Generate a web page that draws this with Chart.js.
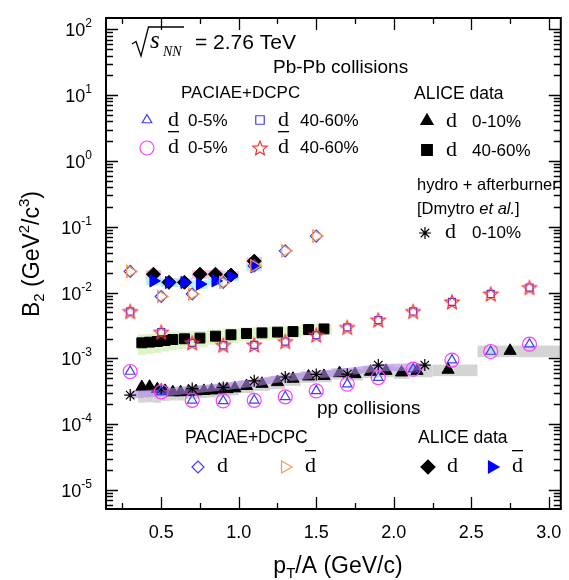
<!DOCTYPE html>
<html>
<head>
<meta charset="utf-8">
<script src="https://cdn.jsdelivr.net/npm/chart.js@4.4.1/dist/chart.umd.min.js"></script>
<style>
body { margin: 0; background: #fff; }
canvas { display: block; }
</style>
</head>
<body>
<canvas id="b2" width="569" height="580"></canvas>
<script>
// PACIAE+DCPC, Pb-Pb
const pbX = [0.3, 0.5, 0.7, 0.9, 1.1, 1.3, 1.5, 1.7, 1.9, 2.125, 2.375, 2.625, 2.875];
const paciaeD05 = [6.3e-4, 3.1e-4, 2.3e-4, 2.25e-4, 2.3e-4, 2.6e-4, 3.2e-4, 4.05e-4, 5.1e-4, 6.85e-4, 9.4e-4, 1.27e-3, 1.64e-3];
const paciaeDbar05 = [6.3e-4, 3.1e-4, 2.3e-4, 2.25e-4, 2.3e-4, 2.6e-4, 3.2e-4, 4.05e-4, 5.1e-4, 6.85e-4, 9.4e-4, 1.27e-3, 1.64e-3];
const paciaeD4060 = [5.15e-3, 2.5e-3, 1.72e-3, 1.58e-3, 1.6e-3, 1.8e-3, 2.25e-3, 2.95e-3, 3.82e-3, 5.15e-3, 7.2e-3, 9.5e-3, 1.19e-2];
const paciaeDbar4060 = [5.15e-3, 2.5e-3, 1.72e-3, 1.58e-3, 1.6e-3, 1.8e-3, 2.25e-3, 2.95e-3, 3.82e-3, 5.15e-3, 7.2e-3, 9.5e-3, 1.19e-2];

// ALICE Pb-Pb, d 0-10%
const alice010X = [0.375, 0.425, 0.475, 0.525, 0.575, 0.625, 0.675, 0.725, 0.775, 0.825, 0.875, 0.925, 0.975,
  1.05, 1.15, 1.25, 1.35, 1.45, 1.55, 1.65, 1.75, 1.85, 1.95, 2.05, 2.15, 2.35, 2.75];
const alice010 = [3.65e-4, 3.7e-4, 3.4e-4, 3.2e-4, 3.05e-4, 3.05e-4, 3.1e-4, 3.15e-4, 3.2e-4, 3.25e-4, 3.35e-4, 3.4e-4, 3.5e-4,
  3.8e-4, 4.1e-4, 4.35e-4, 4.9e-4, 5.3e-4, 5.4e-4, 5.95e-4, 5.75e-4, 6.25e-4, 6.45e-4, 6.1e-4, 6.45e-4, 6.7e-4, 1.3e-3];
const alice010BinLo = [0.35, 0.4, 0.45, 0.5, 0.55, 0.6, 0.65, 0.7, 0.75, 0.8, 0.85, 0.9, 0.95,
  1.0, 1.1, 1.2, 1.3, 1.4, 1.5, 1.6, 1.7, 1.8, 1.9, 2.0, 2.1, 2.25, 2.54];
const alice010BinHi = [0.4, 0.45, 0.5, 0.55, 0.6, 0.65, 0.7, 0.75, 0.8, 0.85, 0.9, 0.95, 1.0,
  1.1, 1.2, 1.3, 1.4, 1.5, 1.6, 1.7, 1.8, 1.9, 2.0, 2.1, 2.25, 2.54, 3.1];
const alice010SysLo = [0.42, 0.42, 0.38, 0.3, 0.25, 0.25, 0.22, 0.22, 0.22, 0.22, 0.22, 0.22, 0.22,
  0.22, 0.22, 0.22, 0.22, 0.2, 0.2, 0.2, 0.2, 0.2, 0.2, 0.2, 0.2, 0.2, 0.2];
const alice010SysHi = [0.12, 0.12, 0.15, 0.2, 0.22, 0.22, 0.22, 0.22, 0.22, 0.22, 0.22, 0.22, 0.22,
  0.22, 0.22, 0.22, 0.22, 0.2, 0.2, 0.2, 0.2, 0.2, 0.2, 0.2, 0.2, 0.2, 0.2];

// ALICE Pb-Pb, d 40-60%
const alice4060X = [0.375, 0.425, 0.475, 0.525, 0.575, 0.65, 0.75, 0.85, 0.95, 1.05, 1.15, 1.25, 1.35, 1.45, 1.55];
const alice4060 = [1.72e-3, 1.76e-3, 1.8e-3, 1.86e-3, 1.93e-3, 1.98e-3, 2.03e-3, 2.17e-3, 2.28e-3, 2.38e-3, 2.44e-3, 2.5e-3, 2.55e-3, 2.74e-3, 2.8e-3];
const alice4060BinLo = [0.35, 0.4, 0.45, 0.5, 0.55, 0.6, 0.7, 0.8, 0.9, 1.0, 1.1, 1.2, 1.3, 1.4, 1.5];
const alice4060BinHi = [0.4, 0.45, 0.5, 0.55, 0.6, 0.7, 0.8, 0.9, 1.0, 1.1, 1.2, 1.3, 1.4, 1.5, 1.6];
const alice4060Sys = [0.35, 0.34, 0.33, 0.32, 0.31, 0.3, 0.28, 0.26, 0.25, 0.24, 0.23, 0.22, 0.21, 0.2, 0.2];

// hydro + afterburner, d 0-10%
const hydroX = [0.3, 0.5, 0.7, 0.9, 1.1, 1.3, 1.5, 1.7, 1.9, 2.2];
const hydro = [2.76e-4, 3.4e-4, 3.47e-4, 3.6e-4, 4.55e-4, 5.2e-4, 5.7e-4, 5.75e-4, 7.9e-4, 7.9e-4];
const hydroBandLo = [2.45e-4, 2.62e-4, 2.91e-4, 3.24e-4, 3.73e-4, 4.44e-4, 4.92e-4, 5.47e-4, 6.3e-4, 6.52e-4];
const hydroBandHi = [3.18e-4, 3.41e-4, 3.78e-4, 4.21e-4, 4.85e-4, 5.77e-4, 6.4e-4, 7.11e-4, 8.19e-4, 8.47e-4];

// pp, PACIAE+DCPC
const ppX = [0.3, 0.5, 0.7, 0.9, 1.1, 1.3, 1.5];
const ppPaciaeD = [0.0209, 0.0087, 0.0095, 0.0142, 0.0254, 0.043, 0.072];
const ppPaciaeDbar = [0.0209, 0.0087, 0.0095, 0.0142, 0.0254, 0.043, 0.072];

// pp, ALICE data
const ppAliceX = [0.45, 0.55, 0.65, 0.75, 0.85, 0.95, 1.1];
const ppAliceD = [0.019, 0.0143, 0.0143, 0.019, 0.019, 0.0184, 0.030];
const ppAliceDbar = [0.015, 0.0142, 0.0142, 0.0134, 0.015, 0.0174, 0.0245];
const ppAliceBinLo = [0.4, 0.5, 0.6, 0.7, 0.8, 0.9, 1.05];
const ppAliceBinHi = [0.5, 0.6, 0.7, 0.8, 0.9, 1.0, 1.15];
const ppAliceSys = [0.15, 0.15, 0.15, 0.15, 0.15, 0.15, 0.15];

const xTickLabels = ['0.5', '1.0', '1.5', '2.0', '2.5', '3.0'];
const yTickExps = [-5, -4, -3, -2, -1, 0, 1, 2];

const SANS = '"Liberation Sans", Arial, sans-serif';
const SERIF = '"Liberation Serif", "Times New Roman", serif';
const BLUE = 'rgb(60,60,255)';
const MAGENTA = 'rgb(255,60,255)';
const RED = 'rgb(255,50,50)';
const ORANGE = 'rgb(255,150,70)';

function pts(xs, ys) {
    return xs.map((x, i) => ({ x: x, y: ys[i] }));
}

function starCanvas(color) {
    const c = document.createElement('canvas');
    c.width = 18; c.height = 18;
    const g = c.getContext('2d');
    g.strokeStyle = color;
    g.lineWidth = 1.2;
    g.beginPath();
    for (let i = 0; i < 10; i++) {
        const r = i % 2 ? 3.3 : 7.5;
        const a = -Math.PI / 2 + i * Math.PI / 5;
        const px = 9 + r * Math.cos(a), py = 9.6 + r * Math.sin(a);
        if (i) g.lineTo(px, py); else g.moveTo(px, py);
    }
    g.closePath();
    g.stroke();
    return c;
}
const redStar = starCanvas(RED);

function boxes(chart, lo, hi, ys, sysLo, sysHi, color) {
    const ctx = chart.ctx, sx = chart.scales.x, sy = chart.scales.y;
    ctx.fillStyle = color;
    ys.forEach((v, i) => {
        const x0 = sx.getPixelForValue(lo[i]), x1 = sx.getPixelForValue(hi[i]);
        const y0 = sy.getPixelForValue(v * (1 + sysHi[i])), y1 = sy.getPixelForValue(v * (1 - sysLo[i]));
        ctx.fillRect(x0, y0, x1 - x0, y1 - y0);
    });
}

const sysBoxes = {
    id: 'sysBoxes',
    beforeDatasetsDraw(chart) {
        const a = chart.chartArea, ctx = chart.ctx;
        ctx.save();
        ctx.beginPath();
        ctx.rect(a.left, a.top, a.right - a.left, a.bottom - a.top);
        ctx.clip();
        boxes(chart, alice4060BinLo, alice4060BinHi, alice4060, alice4060Sys, alice4060Sys, 'rgb(222,244,200)');
        boxes(chart, alice010BinLo, alice010BinHi, alice010, alice010SysLo, alice010SysHi, 'rgb(212,212,212)');
        boxes(chart, ppAliceBinLo, ppAliceBinHi, ppAliceD, ppAliceSys, ppAliceSys, 'rgba(255,175,215,0.85)');
        boxes(chart, ppAliceBinLo, ppAliceBinHi, ppAliceDbar, ppAliceSys, ppAliceSys, 'rgba(170,240,240,0.8)');
        ctx.restore();
    }
};

function rich(ctx, parts, x, y, align) {
    let w = 0;
    parts.forEach(p => { ctx.font = p.f; w += ctx.measureText(p.t).width; });
    let cx = align === 'right' ? x - w : align === 'center' ? x - w / 2 : x;
    parts.forEach(p => {
        ctx.font = p.f;
        ctx.fillText(p.t, cx, y + (p.dy || 0));
        cx += ctx.measureText(p.t).width;
    });
}

function marker(ctx, style, radius, rotation, fill, stroke, x, y) {
    ctx.save();
    ctx.fillStyle = fill;
    ctx.strokeStyle = stroke;
    ctx.lineWidth = 1.2;
    Chart.helpers.drawPoint(ctx, { pointStyle: style, radius: radius, rotation: rotation, borderWidth: 1.2 }, x, y);
    ctx.restore();
}

function dGlyph(ctx, x, y, bar) {
    ctx.font = '22px ' + SERIF;
    ctx.fillText('d', x, y);
    if (bar) {
        ctx.fillRect(x, y - 22, 11, 1.3);
    }
}

const frameAndText = {
    id: 'frameAndText',
    afterDraw(chart) {
        const ctx = chart.ctx, a = chart.chartArea, sx = chart.scales.x, sy = chart.scales.y;
        ctx.save();
        ctx.strokeStyle = '#000';
        ctx.fillStyle = '#000';
        ctx.lineWidth = 2;
        ctx.strokeRect(a.left, a.top, a.right - a.left, a.bottom - a.top);

        // ticks
        ctx.lineWidth = 1.3;
        ctx.beginPath();
        for (let e = -6; e <= 2; e++) {
            for (let m = 1; m <= 9; m++) {
                const v = m * Math.pow(10, e);
                if (v < sy.min || v > sy.max) continue;
                const py = Math.round(sy.getPixelForValue(v)) + 0.5;
                const len = m === 1 ? 12 : 7;
                ctx.moveTo(a.left, py); ctx.lineTo(a.left + len, py);
                ctx.moveTo(a.right, py); ctx.lineTo(a.right - len, py);
            }
        }
        for (let k = 1; k <= 12; k++) {
            const v = k * 0.25;
            const px = Math.round(sx.getPixelForValue(v)) + 0.5;
            const len = k % 2 === 0 ? 12 : 6;
            ctx.moveTo(px, a.bottom); ctx.lineTo(px, a.bottom - len);
            ctx.moveTo(px, a.top); ctx.lineTo(px, a.top + len);
        }
        ctx.stroke();

        // tick labels
        ctx.textBaseline = 'alphabetic';
        ctx.textAlign = 'left';
        yTickExps.forEach(e => {
            const py = sy.getPixelForValue(Math.pow(10, e));
            rich(ctx, [
                { t: '10', f: '18px ' + SANS },
                { t: String(e), f: '12px ' + SANS, dy: -9 }
            ], 92, py + 7, 'right');
        });
        ctx.textAlign = 'center';
        ctx.font = '18px ' + SANS;
        xTickLabels.forEach(t => {
            ctx.fillText(t, sx.getPixelForValue(parseFloat(t)), 538);
        });
        ctx.textAlign = 'left';

        // axis titles
        rich(ctx, [
            { t: 'p', f: '23px ' + SANS },
            { t: 'T', f: '15px ' + SANS, dy: 5 },
            { t: '/A (GeV/c)', f: '23px ' + SANS }
        ], 338, 573, 'center');
        ctx.save();
        ctx.translate(39, 254);
        ctx.rotate(-Math.PI / 2);
        rich(ctx, [
            { t: 'B', f: '23px ' + SANS },
            { t: '2', f: '15px ' + SANS, dy: 5 },
            { t: ' (GeV', f: '23px ' + SANS },
            { t: '2', f: '15px ' + SANS, dy: -10 },
            { t: '/c', f: '23px ' + SANS },
            { t: '3', f: '15px ' + SANS, dy: -10 },
            { t: ')', f: '23px ' + SANS }
        ], 0, 0, 'center');
        ctx.restore();

        // sqrt(s_NN) = 2.76 TeV
        ctx.lineWidth = 1.3;
        ctx.beginPath();
        ctx.moveTo(132, 44); ctx.lineTo(136, 41.5); ctx.lineTo(141, 56); ctx.lineTo(148.5, 27); ctx.lineTo(184, 27);
        ctx.stroke();
        ctx.font = 'italic 25px ' + SERIF;
        ctx.fillText('s', 150, 48);
        ctx.font = 'italic 14px ' + SERIF;
        ctx.fillText('NN', 163, 56);
        ctx.font = '21px ' + SANS;
        ctx.fillText('= 2.76 TeV', 195, 49);
        ctx.font = '19px ' + SANS;
        ctx.fillText('Pb-Pb collisions', 273, 73);

        // Pb-Pb legend, PACIAE+DCPC
        ctx.font = '17px ' + SANS;
        ctx.fillText('PACIAE+DCPC', 181, 98);
        marker(ctx, 'triangle', 5.5, 0, 'rgba(0,0,0,0)', BLUE, 147, 120);
        marker(ctx, 'circle', 7, 0, 'rgba(0,0,0,0)', MAGENTA, 147, 148);
        marker(ctx, 'rect', 6, 0, 'rgba(0,0,0,0)', BLUE, 260, 120);
        ctx.drawImage(redStar, 251, 139);
        dGlyph(ctx, 168, 126, false);
        dGlyph(ctx, 168, 153, true);
        dGlyph(ctx, 278, 126, false);
        dGlyph(ctx, 278, 153, true);
        ctx.font = '17px ' + SANS;
        ctx.fillText('0-5%', 188, 126);
        ctx.fillText('0-5%', 188, 153);
        ctx.fillText('40-60%', 300, 126);
        ctx.fillText('40-60%', 300, 153);

        // Pb-Pb legend, ALICE data
        ctx.font = '17.5px ' + SANS;
        ctx.fillText('ALICE data', 414, 99);
        marker(ctx, 'triangle', 7, 0, '#000', '#000', 427, 121);
        marker(ctx, 'rect', 7.5, 0, '#000', '#000', 427, 150);
        dGlyph(ctx, 446, 127, false);
        dGlyph(ctx, 446, 156, false);
        ctx.font = '17px ' + SANS;
        ctx.fillText('0-10%', 472, 127);
        ctx.fillText('40-60%', 472, 156);

        // hydro
        ctx.font = '16.5px ' + SANS;
        ctx.fillText('hydro + afterburner', 417, 190);
        rich(ctx, [
            { t: '[Dmytro ', f: '16.5px ' + SANS },
            { t: 'et al.', f: 'italic 16.5px ' + SANS },
            { t: ']', f: '16.5px ' + SANS }
        ], 417, 214, 'left');
        marker(ctx, 'star', 6, 0, 'rgba(0,0,0,0)', '#000', 425, 233);
        dGlyph(ctx, 445, 238, false);
        ctx.font = '17px ' + SANS;
        ctx.fillText('0-10%', 472, 238);

        // pp legend
        ctx.font = '19px ' + SANS;
        ctx.fillText('pp collisions', 317, 414);
        ctx.font = '17.5px ' + SANS;
        ctx.fillText('PACIAE+DCPC', 185, 443);
        ctx.fillText('ALICE data', 418, 443);
        marker(ctx, 'rectRot', 6, 0, 'rgba(0,0,0,0)', BLUE, 198, 467);
        dGlyph(ctx, 217, 472, false);
        marker(ctx, 'triangle', 7, 90, 'rgba(0,0,0,0)', ORANGE, 285, 467);
        dGlyph(ctx, 305, 472, true);
        marker(ctx, 'rectRot', 7, 0, '#000', '#000', 428, 467);
        dGlyph(ctx, 447, 472, false);
        marker(ctx, 'triangle', 7, 90, 'rgb(0,0,255)', 'rgb(0,0,255)', 492, 467);
        dGlyph(ctx, 512, 472, true);
        ctx.restore();
    }
};

const hollow = 'rgba(0,0,0,0)';

new Chart(document.getElementById('b2'), {
    type: 'scatter',
    data: {
        datasets: [
            { label: 'ALICE d 0-10%', data: pts(alice010X, alice010), pointStyle: 'triangle', pointRadius: 7,
              backgroundColor: '#000', borderColor: '#000', borderWidth: 1, order: 20 },
            { label: 'ALICE d 40-60%', data: pts(alice4060X, alice4060), pointStyle: 'rect', pointRadius: 7,
              backgroundColor: '#000', borderColor: '#000', borderWidth: 1, order: 20 },
            { type: 'line', label: 'hydro band low', data: pts(hydroX, hydroBandLo), pointRadius: 0,
              borderWidth: 0, borderColor: 'rgba(0,0,0,0)', fill: false, order: 15 },
            { type: 'line', label: 'hydro band high', data: pts(hydroX, hydroBandHi), pointRadius: 0,
              borderWidth: 0, borderColor: 'rgba(0,0,0,0)', backgroundColor: 'rgba(175,135,230,0.6)',
              fill: '-1', order: 15 },
            { label: 'hydro d 0-10%', data: pts(hydroX, hydro), pointStyle: 'star', pointRadius: 6,
              backgroundColor: hollow, borderColor: '#000', borderWidth: 1.2, order: 10 },
            { label: 'ALICE pp d', data: pts(ppAliceX, ppAliceD), pointStyle: 'rectRot', pointRadius: 7,
              backgroundColor: '#000', borderColor: '#000', borderWidth: 1, order: 9 },
            { label: 'ALICE pp dbar', data: pts(ppAliceX, ppAliceDbar), pointStyle: 'triangle', rotation: 90,
              pointRadius: 7, backgroundColor: 'rgb(0,0,255)', borderColor: 'rgb(0,0,255)', borderWidth: 1, order: 8 },
            { label: 'PACIAE d 40-60%', data: pts(pbX, paciaeD4060), pointStyle: 'rect', pointRadius: 5,
              backgroundColor: hollow, borderColor: BLUE, borderWidth: 1.2, order: 6 },
            { label: 'PACIAE dbar 40-60%', data: pts(pbX, paciaeDbar4060), pointStyle: redStar, order: 5 },
            { label: 'PACIAE dbar 0-5%', data: pts(pbX, paciaeDbar05), pointStyle: 'circle', pointRadius: 7,
              backgroundColor: hollow, borderColor: MAGENTA, borderWidth: 1.2, order: 6 },
            { label: 'PACIAE d 0-5%', data: pts(pbX, paciaeD05), pointStyle: 'triangle', pointRadius: 5.5,
              backgroundColor: hollow, borderColor: BLUE, borderWidth: 1.2, order: 5 },
            { label: 'PACIAE pp d', data: pts(ppX, ppPaciaeD), pointStyle: 'rectRot', pointRadius: 6,
              backgroundColor: hollow, borderColor: BLUE, borderWidth: 1.2, order: 3 },
            { label: 'PACIAE pp dbar', data: pts(ppX, ppPaciaeDbar), pointStyle: 'triangle', rotation: 90,
              pointRadius: 7, backgroundColor: hollow, borderColor: ORANGE, borderWidth: 1.2, order: 2 }
        ]
    },
    options: {
        responsive: false,
        animation: false,
        layout: { padding: { left: 106, right: 4, top: 18, bottom: 71 } },
        plugins: { legend: { display: false }, tooltip: { enabled: false } },
        scales: {
            x: {
                type: 'linear', min: 0.144, max: 3.077,
                grid: { display: false, drawTicks: false },
                border: { display: false },
                ticks: { display: false }
            },
            y: {
                type: 'logarithmic', min: Math.pow(10, -5.29), max: Math.pow(10, 2.172),
                grid: { display: false, drawTicks: false },
                border: { display: false },
                ticks: { display: false }
            }
        }
    },
    plugins: [sysBoxes, frameAndText]
});
</script>
</body>
</html>
